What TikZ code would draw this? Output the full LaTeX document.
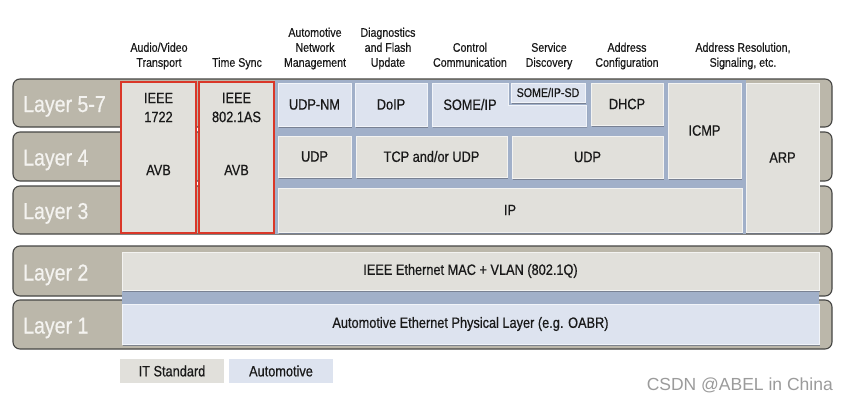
\documentclass[tikz,border=0pt]{standalone}
\usepackage{fontspec}
\setmainfont{Liberation Sans}
\newfontfamily\condf{Liberation Sans}[FakeStretch=0.85,FakeBold=0.6]
\newfontfamily\condh{Liberation Sans}[FakeStretch=0.85,FakeBold=0.35]
\usetikzlibrary{shadows}
\definecolor{band}{RGB}{187,183,170}
\definecolor{bandline}{RGB}{70,70,68}
\definecolor{itgray}{RGB}{225,224,219}
\definecolor{autoblue}{RGB}{221,227,239}
\definecolor{bgblue}{RGB}{161,176,201}
\definecolor{avbred}{RGB}{218,55,40}
\definecolor{shade}{RGB}{110,118,134}
\definecolor{labwhite}{RGB}{244,243,240}
\definecolor{wmgray}{RGB}{155,155,155}
\definecolor{ink}{RGB}{25,25,25}
\newcommand\bx[7]{\node[#1,minimum width={#4-#2},minimum height={#5-#3}] (#6) at ({(#2+#4)/2},{(#3+#5)/2}) {#7};}
\begin{document}
\begin{tikzpicture}[x=1pt,y=-1pt,
  base/.style={inner sep=0pt,outer sep=0pt,align=center,text=ink,font=\condf\fontsize{15}{18}\selectfont},
  itbox/.style={base,fill=itgray,draw=white!60!itgray,line width=0.7pt,
    drop shadow={shadow xshift=1pt,shadow yshift=-1.6pt,fill=shade,opacity=0.8}},
  aubox/.style={base,fill=autoblue,draw=white!60!autoblue,line width=0.7pt,
    drop shadow={shadow xshift=1pt,shadow yshift=-1.6pt,fill=shade,opacity=0.8}},
  redbox/.style={base,fill=itgray,draw=avbred,line width=2pt},
  bandbox/.style={inner sep=0pt,outer sep=0pt,fill=band,draw=bandline,line width=1.1pt,rounded corners=7pt},
  laylbl/.style={inner sep=0pt,anchor=base west,text=labwhite,font=\condf\fontsize{23}{26}\selectfont},
  head/.style={inner sep=0pt,anchor=south,align=center,text=ink,font=\condh\fontsize{12.5}{15}\selectfont},
  txt/.style={inner sep=0pt,align=center,text=ink,font=\condf\fontsize{15}{19}\selectfont},
  legend/.style={base,minimum height=24pt}]
\useasboundingbox (0,0) rectangle (847,402);
\fill[white] (0,0) rectangle (847,402);
% bands
\bx{bandbox}{13}{79}{832}{127}{b57}{}
\bx{bandbox}{13}{132}{832}{181}{b4}{}
\bx{bandbox}{13}{186}{832}{234}{b3}{}
\bx{bandbox}{13}{246}{832}{296}{b2}{}
\bx{bandbox}{13}{300}{832}{349}{b1}{}
\node[laylbl] (l57) at (23,112) {Layer 5-7};
\node[laylbl] (l4) at (23,165.5) {Layer 4};
\node[laylbl] (l3) at (23,219) {Layer 3};
\node[laylbl] (l2) at (23,280.5) {Layer 2};
\node[laylbl] (l1) at (23,333.5) {Layer 1};
% blue background upper block
\fill[bgblue] (275,79.7) rectangle (746,233.6);
% AVB columns
\bx{redbox}{121}{82}{196}{233}{avb1}{}
\bx{redbox}{199}{82}{274}{233}{avb2}{}
\node[txt] (t1722) at (158.5,107.5) {IEEE\\1722};
\node[txt] (a1) at (158.5,170) {AVB};
\node[txt] (t8021) at (236.5,107.5) {IEEE\\802.1AS};
\node[txt] (a2) at (236.5,170) {AVB};
% layer 5-7
\bx{aubox}{278}{83}{351}{126}{udpnm}{UDP-NM}
\bx{aubox}{355}{83}{427}{126}{doip}{DoIP}
\path[fill=autoblue,draw=white!60!autoblue,line width=0.7pt,
  drop shadow={shadow xshift=1pt,shadow yshift=-1.6pt,fill=shade,opacity=0.8}]
  (432,83) -- (508,83) -- (508,105) -- (586,105) -- (586,126) -- (432,126) -- cycle;
\node[txt] (someip) at (470,104.5) {SOME/IP};
\node[aubox,minimum width=74,minimum height=19,font=\condf\fontsize{12.5}{15}\selectfont] (somesd) at (548,92.5) {SOME/IP-SD};
\bx{itbox}{591}{83}{663}{125}{dhcp}{DHCP}
\bx{itbox}{668}{83}{741}{178}{icmp}{ICMP}
\bx{itbox}{746}{83}{819}{232}{arp}{ARP}
% layer 4
\bx{itbox}{278}{136}{351}{177}{udp1}{UDP}
\bx{itbox}{356}{136}{507}{177}{tcpudp}{TCP and/or UDP}
\bx{itbox}{512}{136}{663}{178}{udp2}{UDP}
% layer 3
\bx{itbox}{278}{188}{742}{232}{ip}{IP}
% layer 2 / 1
\fill[bgblue] (122,289) rectangle (819,305);
\bx{itbox}{122}{252}{819}{290}{mac}{IEEE Ethernet MAC + VLAN (802.1Q)}
\bx{aubox}{122}{304}{819}{344}{phy}{Automotive Ethernet Physical Layer (e.g. OABR)}
% headers
\node[head] (h1) at (159,71.5) {Audio/Video\\Transport\strut};
\node[head] (h2) at (237,71.5) {Time Sync\strut};
\node[head] (h3) at (315,71.5) {Automotive\\Network\\Management\strut};
\node[head] (h4) at (388,71.5) {Diagnostics\\and Flash\\Update\strut};
\node[head] (h5) at (470,71.5) {Control\\Communication\strut};
\node[head] (h6) at (549,71.5) {Service\\Discovery\strut};
\node[head] (h7) at (627,71.5) {Address\\Configuration\strut};
\node[head] (h8) at (743,71.5) {Address Resolution,\\Signaling, etc.\strut};
% legend
\node[legend,fill=itgray,minimum width=104] (legit) at (172,371) {IT Standard};
\node[legend,fill=autoblue,minimum width=104] (legau) at (281,371) {Automotive};
% watermark
\node[inner sep=0pt,anchor=east,text=wmgray,font=\fontsize{17.5}{20}\selectfont] (wm) at (833,385) {CSDN @ABEL in China};
\end{tikzpicture}
\end{document}
